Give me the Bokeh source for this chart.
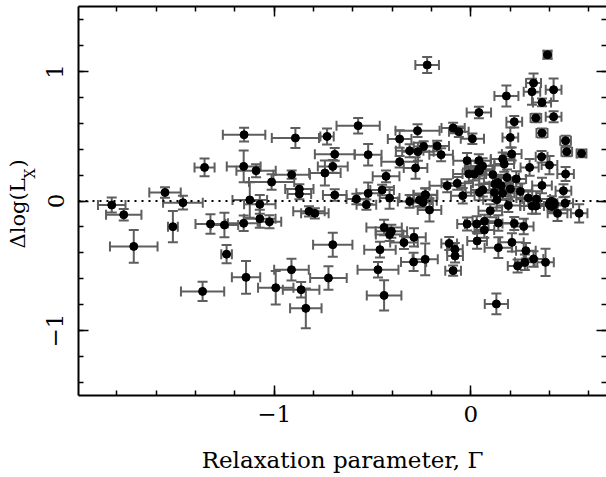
import math
from bokeh.plotting import figure
from bokeh.layouts import row
from bokeh.models import (ColumnDataSource, Whisker, TeeHead, Range1d, LinearAxis,
                          SingleIntervalTicker, Span, Label, CustomJSTickFormatter)
from bokeh.embed import file_html
from bokeh.resources import INLINE

# ---- data ----
gamma = [
    -1.826, -1.765, -1.714, -1.555, -1.464, -1.515, -1.354, -1.324, -1.253, -1.242,
    -1.364, -1.155, -1.092, -1.013, -1.124, -1.073, -1.155, -1.073, -1.024, -1.143,
    -0.992, -1.153, -0.892, -0.731, -0.573, -0.911, -0.872, -0.872, -0.823, -0.793,
    -0.692, -0.522, -0.702, -0.742, -0.692, -0.582, -0.522, -0.531, -0.451, -0.413,
    -0.362, -0.271, -0.311, -0.269, -0.240, -0.362, -0.281, -0.431, -0.311, -0.261,
    -0.243, -0.230, -0.210, -0.912, -0.863, -0.839, -0.724, -0.702, -0.441, -0.404,
    -0.413, -0.462, -0.340, -0.289, -0.291, -0.232, -0.472, -0.441, -0.222,
    0.390, 0.319, 0.311, 0.421, 0.181, 0.362, 0.041, 0.221, 0.331, 0.421,
    0.362, 0.201, 0.482, 0.488, 0.563, 0.360, 0.400, 0.299, 0.482, 0.208,
    0.162, 0.170, 0.008, -0.090, -0.061, -0.171, -0.151, -0.019, 0.041, 0.060,
    0.040, -0.010, 0.018, 0.044, 0.112, 0.184, 0.231, -0.120, -0.069, -0.041,
    -0.232, -0.243, 0.044, 0.061, 0.123, 0.137, 0.154, 0.120, 0.162, 0.201,
    0.133, 0.191, 0.099, -0.019, 0.030, 0.069, 0.069, 0.140, 0.221, 0.032,
    0.140, 0.209, -0.110, -0.081, -0.080, -0.090, 0.238, 0.130, 0.362, 0.471,
    0.252, 0.292, 0.333, 0.312, 0.331, 0.412, 0.441, 0.480, 0.551, 0.269,
    0.280, 0.275, 0.319, 0.380,
]
dlog_lx = [
    -0.031, -0.106, -0.350, 0.066, -0.013, -0.198, 0.259, -0.177, -0.185, -0.410,
    -0.697, 0.267, 0.234, 0.146, 0.008, -0.026, -0.172, -0.137, -0.160, -0.589,
    -0.669, 0.511, 0.486, 0.498, 0.581, 0.203, 0.092, 0.054, -0.080, -0.095,
    0.360, 0.357, 0.267, 0.216, 0.046, 0.015, 0.059, -0.028, 0.085, 0.023,
    0.478, 0.542, 0.388, 0.380, 0.421, 0.303, 0.254, 0.190, -0.003, 0.008,
    -0.011, 0.046, -0.069, -0.530, -0.684, -0.828, -0.594, -0.337, -0.204, -0.234,
    -0.258, -0.375, -0.321, -0.280, -0.470, -0.450, -0.530, -0.728, 1.049,
    1.128, 0.910, 0.843, 0.858, 0.810, 0.760, 0.683, 0.611, 0.640, 0.650,
    0.524, 0.490, 0.465, 0.380, 0.367, 0.341, 0.277, 0.259, 0.208, 0.362,
    0.324, 0.285, 0.480, 0.563, 0.534, 0.424, 0.357, 0.311, 0.311, 0.270,
    0.245, 0.208, 0.208, 0.234, 0.203, 0.182, 0.170, 0.118, 0.136, 0.041,
    0.049, 0.002, 0.066, 0.085, 0.131, 0.143, 0.118, 0.066, 0.059, 0.093,
    0.010, -0.034, -0.075, -0.177, -0.177, -0.157, -0.224, -0.170, -0.173, -0.308,
    -0.360, -0.319, -0.327, -0.373, -0.424, -0.537, -0.501, -0.794, 0.120, 0.079,
    0.074, 0.023, 0.015, -0.039, -0.039, -0.023, -0.095, -0.018, -0.095, -0.196,
    -0.383, -0.473, -0.447, -0.473,
]
gamma_err = [
    0.070, 0.090, 0.121, 0.080, 0.101, 0.025, 0.051, 0.076, 0.070, 0.027,
    0.110, 0.086, 0.100, 0.115, 0.088, 0.080, 0.080, 0.080, 0.060, 0.072,
    0.090, 0.108, 0.120, 0.034, 0.110, 0.093, 0.072, 0.060, 0.080, 0.070,
    0.101, 0.068, 0.076, 0.080, 0.060, 0.050, 0.060, 0.050, 0.060, 0.050,
    0.060, 0.112, 0.070, 0.080, 0.050, 0.093, 0.060, 0.068, 0.060, 0.060,
    0.050, 0.060, 0.060, 0.088, 0.093, 0.080, 0.093, 0.100, 0.090, 0.080,
    0.070, 0.080, 0.070, 0.060, 0.064, 0.064, 0.104, 0.088, 0.060,
    0.020, 0.038, 0.042, 0.040, 0.061, 0.046, 0.062, 0.040, 0.027, 0.040,
    0.028, 0.040, 0.027, 0.027, 0.025, 0.030, 0.040, 0.046, 0.042, 0.050,
    0.060, 0.050, 0.059, 0.059, 0.050, 0.060, 0.060, 0.070, 0.060, 0.060,
    0.070, 0.080, 0.060, 0.070, 0.070, 0.060, 0.050, 0.090, 0.080, 0.060,
    0.060, 0.070, 0.070, 0.060, 0.080, 0.070, 0.060, 0.070, 0.060, 0.060,
    0.070, 0.060, 0.060, 0.050, 0.060, 0.060, 0.050, 0.070, 0.060, 0.050,
    0.070, 0.060, 0.040, 0.040, 0.040, 0.040, 0.050, 0.059, 0.050, 0.040,
    0.060, 0.060, 0.070, 0.060, 0.060, 0.060, 0.050, 0.040, 0.042, 0.050,
    0.050, 0.050, 0.050, 0.042,
]
dlog_lx_err = [
    0.058, 0.045, 0.127, 0.040, 0.053, 0.120, 0.068, 0.075, 0.095, 0.070,
    0.075, 0.122, 0.050, 0.060, 0.137, 0.073, 0.060, 0.070, 0.050, 0.126,
    0.130, 0.053, 0.077, 0.062, 0.060, 0.032, 0.038, 0.040, 0.040, 0.040,
    0.049, 0.083, 0.050, 0.096, 0.045, 0.040, 0.083, 0.040, 0.040, 0.083,
    0.067, 0.049, 0.050, 0.070, 0.040, 0.045, 0.083, 0.045, 0.050, 0.050,
    0.040, 0.050, 0.090, 0.084, 0.060, 0.154, 0.090, 0.093, 0.060, 0.050,
    0.050, 0.060, 0.050, 0.070, 0.070, 0.122, 0.060, 0.116, 0.062,
    0.030, 0.073, 0.100, 0.087, 0.081, 0.030, 0.044, 0.045, 0.033, 0.042,
    0.035, 0.077, 0.039, 0.035, 0.030, 0.045, 0.070, 0.064, 0.054, 0.050,
    0.050, 0.060, 0.040, 0.040, 0.040, 0.040, 0.050, 0.060, 0.050, 0.060,
    0.050, 0.060, 0.050, 0.060, 0.070, 0.060, 0.060, 0.050, 0.050, 0.060,
    0.050, 0.050, 0.060, 0.050, 0.060, 0.050, 0.060, 0.060, 0.050, 0.060,
    0.060, 0.050, 0.050, 0.050, 0.060, 0.050, 0.060, 0.060, 0.050, 0.060,
    0.080, 0.070, 0.050, 0.050, 0.050, 0.040, 0.050, 0.080, 0.060, 0.050,
    0.060, 0.060, 0.060, 0.060, 0.060, 0.060, 0.060, 0.050, 0.070, 0.060,
    0.060, 0.060, 0.060, 0.105,
]
big_point = [0.412, -0.023]          # the one larger dot in the cluster
x_label = "Relaxation parameter, \u0393"
y_label_main = "\u0394log(L"
y_label_sub = "X"
y_label_tail = " )"

FONT = "DejaVu Serif"
ERR_COLOR = "#5e5e5e"

X0, X1 = -1.995, 0.69
Y0, Y1 = -1.5, 1.5
W, H = 606, 477
LAB_W = 44                     # strip that carries the rotated y title
BL, BR, BT, BB = 76 - LAB_W, 0, 6, 82

src = ColumnDataSource(dict(
    x=gamma, y=dlog_lx,
    xl=[a - b for a, b in zip(gamma, gamma_err)],
    xu=[a + b for a, b in zip(gamma, gamma_err)],
    yl=[a - b for a, b in zip(dlog_lx, dlog_lx_err)],
    yu=[a + b for a, b in zip(dlog_lx, dlog_lx_err)],
))

p = figure(width=W - LAB_W, height=H,
           x_range=Range1d(X0, X1), y_range=Range1d(Y0, Y1),
           output_backend="svg", toolbar_location=None,
           x_axis_location=None, y_axis_location=None,
           min_border_left=BL, min_border_right=BR, min_border_top=BT, min_border_bottom=BB)
p.outline_line_color = None
p.background_fill_color = "white"
p.border_fill_color = "white"
for g in p.grid:
    g.visible = False

fmt = CustomJSTickFormatter(code="""
const v = Math.round(tick);
return v < 0 ? "\u2212" + String(-v) : String(v);
""")
blank = CustomJSTickFormatter(code="return '';")

def make_axis(labels=True, line=True):
    ax = LinearAxis(ticker=SingleIntervalTicker(interval=1, num_minor_ticks=5),
                    formatter=fmt if labels else blank)
    ax.major_tick_in = 10
    ax.major_tick_out = 0
    ax.minor_tick_in = 5
    ax.minor_tick_out = 0
    ax.major_tick_line_width = 1.5
    ax.minor_tick_line_width = 1.5
    ax.major_tick_line_color = "black"
    ax.minor_tick_line_color = "black"
    ax.axis_line_width = 2
    ax.axis_line_color = "black" if line else None
    if labels:
        ax.major_label_text_font = FONT
        ax.major_label_text_font_size = "23px"
        ax.major_label_text_color = "black"
    else:
        ax.major_label_text_font_size = "1px"
        ax.major_label_standoff = 0
    return ax

xb = make_axis(True)
xb.major_label_standoff = 10
xb.axis_label = x_label
xb.axis_label_text_font = FONT
xb.axis_label_text_font_style = "normal"
xb.axis_label_text_font_size = "23px"
xb.axis_label_text_color = "black"
xb.axis_label_standoff = 22
p.add_layout(xb, "below")

yl = make_axis(True)
yl.major_label_orientation = "vertical"
yl.major_label_standoff = 15
p.add_layout(yl, "left")

p.add_layout(make_axis(False), "above")
p.add_layout(make_axis(False, line=False), "right")

p.add_layout(Span(location=0, dimension="width", line_color="black",
                  line_width=2, line_dash="2 5"))

# error bars
for dim, lo, up, base in (("width", "xl", "xu", "y"), ("height", "yl", "yu", "x")):
    w = Whisker(source=src, base=base, lower=lo, upper=up, dimension=dim,
                line_color=ERR_COLOR, line_width=2,
                upper_head=TeeHead(size=10, line_color=ERR_COLOR, line_width=2),
                lower_head=TeeHead(size=10, line_color=ERR_COLOR, line_width=2))
    p.add_layout(w)

p.scatter("x", "y", source=src, size=8, color="black")
p.scatter([big_point[0]], [big_point[1]], size=13, color="black")

# ---- strip at the left with the rotated y title ----
# its frame spans the same rows as the main frame; coordinates are canvas pixels
lab = figure(width=LAB_W, height=H,
             x_range=Range1d(0, LAB_W), y_range=Range1d(H - (H - BB), H - BT),
             output_backend="svg", toolbar_location=None,
             x_axis_location=None, y_axis_location=None,
             min_border_left=0, min_border_right=0, min_border_top=BT, min_border_bottom=BB)
lab.outline_line_color = None
lab.background_fill_color = "white"
lab.border_fill_color = "white"
for g in lab.grid:
    g.visible = False

def ylab(px, py, text, size):
    lab.add_layout(Label(x=px, y=H - py, text=text,
                         angle=math.pi / 2, text_font=FONT, text_font_size=size,
                         text_align="left", text_baseline="alphabetic", text_color="black"))

ylab(17, 248, y_label_main, "21px")
ylab(29, 178, y_label_sub, "14px")
ylab(17, 167, y_label_tail, "21px")

open("out.html", "w").write(file_html(row(lab, p, spacing=0), INLINE))
